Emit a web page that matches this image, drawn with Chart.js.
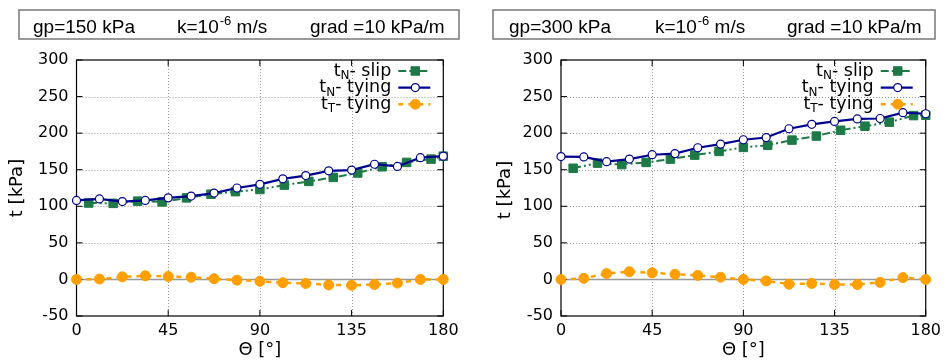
<!DOCTYPE html>
<html><head><meta charset="utf-8">
<script src="https://cdn.jsdelivr.net/npm/chart.js@4/dist/chart.umd.min.js"></script>
<style>
html,body{margin:0;padding:0;background:#fff;}
#wrap{position:relative;width:946px;height:362px;overflow:hidden;}
.c{position:absolute;top:0;width:473px;height:362px;}
</style></head><body>
<div id="wrap">
<div class="c" style="left:0"><canvas id="c1" width="473" height="362"></canvas></div>
<div class="c" style="left:473px"><canvas id="c2" width="473" height="362"></canvas></div>
</div>
<script>
// ---------- data ----------
const thetaTying = [0, 11.25, 22.5, 33.75, 45, 56.25, 67.5, 78.75, 90, 101.25, 112.5, 123.75, 135, 146.25, 157.5, 168.75, 180];
const thetaSlip  = [6, 18, 30, 42, 54, 66, 78, 90, 102, 114, 126, 138, 150, 162, 174, 180];
const xTicks = [0, 45, 90, 135, 180];
const yTicks = [-50, 0, 50, 100, 150, 200, 250, 300];

const left_tN_slip   = [104.5, 104, 107, 106, 111.5, 116.5, 120, 123, 129, 134, 139.5, 145.5, 154, 160, 164.5, 168.5];
const left_tN_tying  = [108, 110, 106.5, 108, 111.5, 114, 118, 125, 130, 137.5, 142, 148.5, 149.5, 157.5, 154.5, 166.5, 168.5];
const left_tT_tying  = [0, 0.5, 3.5, 5, 4, 3, 1, -1, -2.5, -4.5, -5.5, -7.5, -8, -7, -5, 0, 0];

const right_tN_slip  = [152, 159, 157, 160, 164.5, 170, 175, 180.5, 183.5, 190.5, 196, 204, 209.5, 215, 224, 224.5];
const right_tN_tying = [168, 167.5, 161, 164.5, 170.5, 172, 180, 185, 191, 194, 206, 212, 216, 219.5, 220, 228, 226.5];
const right_tT_tying = [0, 1.5, 8, 10.5, 9, 7, 5.5, 3, 0, -2, -6.5, -5.5, -7, -7, -4, 2.5, 0];

const leftTitle  = ["gp=150 kPa", "k=10", "-6", " m/s", "grad =10 kPa/m"];
const rightTitle = ["gp=300 kPa", "k=10", "-6", " m/s", "grad =10 kPa/m"];
const legendLabels = [["t", "N", "- slip"], ["t", "N", "- tying"], ["t", "T", "- tying"]];
const xAxisTitle = "Θ [°]";
const yAxisTitle = "t [kPa]";

// ---------- styles ----------
const styles = [
  {color: '#1d7a46', width: 2, dash: [8,3,2,3,2,3], pstyle: 'rect', r: 6, fill: '#1d7a46', bw: 1},
  {color: '#000090', width: 2.2, dash: [], pstyle: 'circle', r: 4, fill: '#ffffff', bw: 1.2},
  {color: '#ffa000', width: 2.5, dash: [5,5], pstyle: 'circle', r: 5, fill: '#ffa000', bw: 1}
];
const TICK_FONT = {family: 'DejaVu Sans', size: 16};

function pts(xs, ys) { return ys.map((v, i) => ({x: xs[i], y: v})); }

function mkDataset(label, data, s, order) {
  return {
    label, data, order,
    borderColor: s.color, borderWidth: s.width, borderDash: s.dash,
    pointStyle: s.pstyle, pointRadius: s.r, pointBackgroundColor: s.fill,
    pointBorderColor: s.color, pointBorderWidth: s.bw, pointHoverRadius: s.r,
    tension: 0, fill: false, clip: false
  };
}

function drawMarker(ctx, s, x, y) {
  ctx.save();
  ctx.setLineDash([]);
  ctx.fillStyle = s.fill; ctx.strokeStyle = s.color; ctx.lineWidth = s.bw;
  ctx.beginPath();
  if (s.pstyle === 'rect') {
    const h = Math.SQRT1_2 * s.r;
    ctx.rect(x - h, y - h, 2*h, 2*h);
  } else {
    ctx.arc(x, y, s.r, 0, Math.PI*2);
  }
  ctx.fill(); ctx.stroke();
  ctx.restore();
}

function makePlugin(cfg) {
  return {
    id: 'gp' + cfg.id,
    beforeDatasetsDraw(chart) {
      const ctx = chart.ctx, a = chart.chartArea;
      const xs = chart.scales.x, ys = chart.scales.y;
      ctx.save();
      // grid
      ctx.strokeStyle = '#999999'; ctx.lineWidth = 1; ctx.setLineDash([1,2]);
      xTicks.forEach(v => {
        if (v === 0 || v === 180) return;
        const px = Math.round(xs.getPixelForValue(v)) + 0.5;
        ctx.beginPath(); ctx.moveTo(px, a.top); ctx.lineTo(px, a.bottom); ctx.stroke();
      });
      yTicks.forEach(v => {
        if (v === -50 || v === 300 || v === 0) return;
        const py = Math.round(ys.getPixelForValue(v)) + 0.5;
        ctx.beginPath(); ctx.moveTo(a.left, py); ctx.lineTo(a.right, py); ctx.stroke();
      });
      // zero line
      ctx.setLineDash([]);
      ctx.strokeStyle = '#999999'; ctx.lineWidth = 1.5;
      const y0 = ys.getPixelForValue(0);
      ctx.beginPath(); ctx.moveTo(a.left, y0); ctx.lineTo(a.right, y0); ctx.stroke();
      // border
      ctx.strokeStyle = '#000'; ctx.lineWidth = 1.2;
      ctx.strokeRect(a.left, a.top, a.right - a.left, a.bottom - a.top);
      // tick marks (inward, mirrored)
      const tl = 6;
      ctx.lineWidth = 1;
      yTicks.forEach(v => {
        const py = ys.getPixelForValue(v);
        ctx.beginPath(); ctx.moveTo(a.left, py); ctx.lineTo(a.left + tl, py);
        ctx.moveTo(a.right, py); ctx.lineTo(a.right - tl, py); ctx.stroke();
      });
      xTicks.forEach(v => {
        const px = xs.getPixelForValue(v);
        ctx.beginPath(); ctx.moveTo(px, a.bottom); ctx.lineTo(px, a.bottom - tl);
        ctx.moveTo(px, a.top); ctx.lineTo(px, a.top + tl); ctx.stroke();
      });
      ctx.restore();
    },
    afterDraw(chart) {
      const ctx = chart.ctx, a = chart.chartArea;
      ctx.save();
      // title box
      ctx.strokeStyle = '#808080'; ctx.lineWidth = 1.6;
      ctx.strokeRect(cfg.box[0], cfg.box[1], cfg.box[2] - cfg.box[0], cfg.box[3] - cfg.box[1]);
      ctx.fillStyle = '#000'; ctx.textBaseline = 'alphabetic'; ctx.textAlign = 'left';
      const tf = '19px "Liberation Sans", Arial, sans-serif';
      const sf = '13px "Liberation Sans", Arial, sans-serif';
      const bl = 33;
      ctx.font = tf;
      ctx.fillText(cfg.title[0], cfg.tx[0], bl);
      ctx.fillText(cfg.title[1], cfg.tx[1], bl);
      let w = ctx.measureText(cfg.title[1]).width;
      ctx.font = sf;
      ctx.fillText(cfg.title[2], cfg.tx[1] + w + 1, bl - 8);
      const w2 = ctx.measureText(cfg.title[2]).width;
      ctx.font = tf;
      ctx.fillText(cfg.title[3], cfg.tx[1] + w + 1 + w2, bl);
      ctx.fillText(cfg.title[4], cfg.tx[2], bl);

      // axis titles
      ctx.font = '18px "DejaVu Sans"';
      ctx.textAlign = 'center'; ctx.textBaseline = 'middle';
      ctx.fillText(xAxisTitle, (a.left + a.right) / 2, 350);
      ctx.save();
      ctx.translate(cfg.ylab[0], cfg.ylab[1]);
      ctx.rotate(-Math.PI / 2);
      ctx.fillText(yAxisTitle, 0, 0);
      ctx.restore();

      // legend
      const mainF = '17.5px "DejaVu Sans"', subF = '12px "DejaVu Sans"';
      legendLabels.forEach((lab, i) => {
        const yc = a.top + 11 + i * 16.6;
        const xr = a.right - 52;
        ctx.textBaseline = 'middle'; ctx.textAlign = 'left';
        ctx.font = mainF; const w0 = ctx.measureText(lab[0]).width, w2b = ctx.measureText(lab[2]).width;
        ctx.font = subF; const w1 = ctx.measureText(lab[1]).width;
        let x = xr - (w0 + w1 + w2b);
        ctx.fillStyle = '#000';
        ctx.font = mainF; ctx.fillText(lab[0], x, yc); x += w0;
        ctx.font = subF; ctx.fillText(lab[1], x, yc + 5); x += w1;
        ctx.font = mainF; ctx.fillText(lab[2], x, yc);
        const s = styles[i];
        ctx.save();
        ctx.strokeStyle = s.color; ctx.lineWidth = s.width; ctx.setLineDash(s.dash);
        ctx.beginPath(); ctx.moveTo(a.right - 45, yc); ctx.lineTo(a.right - 13, yc); ctx.stroke();
        ctx.restore();
        drawMarker(ctx, s, a.right - 28, yc);
      });
      ctx.restore();
    }
  };
}

function makeChart(canvasId, slip, tying, tang, cfg) {
  return new Chart(document.getElementById(canvasId), {
    type: 'line',
    data: {
      datasets: [
        mkDataset('tN- slip', pts(thetaSlip, slip), styles[0], 3),
        mkDataset('tN- tying', pts(thetaTying, tying), styles[1], 2),
        mkDataset('tT- tying', pts(thetaTying, tang), styles[2], 1)
      ]
    },
    options: {
      responsive: false, animation: false, devicePixelRatio: 1,
      layout: {padding: {left: 0, right: cfg.padRight, top: 60, bottom: 0}},
      plugins: {legend: {display: false}, tooltip: {enabled: false}, title: {display: false}},
      scales: {
        x: {
          type: 'linear', min: 0, max: 180,
          afterBuildTicks: s => { s.ticks = xTicks.map(v => ({value: v})); },
          ticks: {font: TICK_FONT, color: '#000', padding: 5, maxRotation: 0, autoSkip: false},
          grid: {display: false, drawTicks: false}, border: {display: false},
          afterFit: s => { s.height = 46; }
        },
        y: {
          type: 'linear', min: -50, max: 300,
          afterBuildTicks: s => { s.ticks = yTicks.map(v => ({value: v})); },
          ticks: {font: TICK_FONT, color: '#000', padding: 8, autoSkip: false},
          grid: {display: false, drawTicks: false}, border: {display: false},
          afterFit: s => { s.width = cfg.plotLeft; }
        }
      }
    },
    plugins: [makePlugin(cfg)]
  });
}

makeChart('c1', left_tN_slip, left_tN_tying, left_tT_tying, {
  id: 1, plotLeft: 76.5, padRight: 473 - 443.3,
  box: [19, 10, 459, 39], title: leftTitle, tx: [33, 177, 310], ylab: [17.5, 188]
});
makeChart('c2', right_tN_slip, right_tN_tying, right_tT_tying, {
  id: 2, plotLeft: 561 - 473, padRight: 473 - (927.3 - 473),
  box: [20, 10, 462, 39], title: rightTitle, tx: [36, 182, 314], ylab: [32, 190]
});
</script>
</body></html>
